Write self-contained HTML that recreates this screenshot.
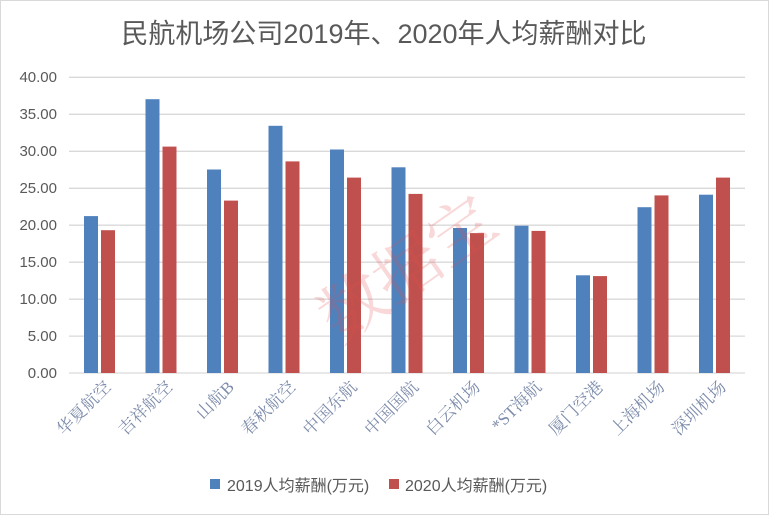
<!DOCTYPE html>
<html><head><meta charset="utf-8"><style>
body{margin:0;background:#fff;}
svg{display:block;font-family:"Liberation Sans","Noto Sans CJK SC",sans-serif;}
</style></head><body>
<svg width="769" height="515" viewBox="0 0 769 515">
<rect x="0.5" y="0.5" width="768" height="514" fill="#fff" stroke="#d9d9d9"/>
<text x="384" y="43" text-anchor="middle" font-size="27" fill="#595959">民航机场公司2019年、2020年人均薪酬对比</text>
<g stroke="#d9d9d9" stroke-width="1.3">
<line x1="69" x2="745" y1="77.3" y2="77.3"/><line x1="69" x2="745" y1="114.3" y2="114.3"/>
<line x1="69" x2="745" y1="151.3" y2="151.3"/><line x1="69" x2="745" y1="188.3" y2="188.3"/>
<line x1="69" x2="745" y1="225.2" y2="225.2"/><line x1="69" x2="745" y1="262.2" y2="262.2"/>
<line x1="69" x2="745" y1="299.2" y2="299.2"/><line x1="69" x2="745" y1="336.1" y2="336.1"/>
<line x1="69" x2="745" y1="373" y2="373"/>
</g>
<g font-size="15" fill="#595959" text-anchor="end">
<text x="57" y="82">40.00</text><text x="57" y="119">35.00</text><text x="57" y="156">30.00</text>
<text x="57" y="193">25.00</text><text x="57" y="230">20.00</text><text x="57" y="267">15.00</text>
<text x="57" y="304">10.00</text><text x="57" y="341">5.00</text><text x="57" y="378">0.00</text>
</g>
<g fill="#4f81bd">
<rect x="84" y="216.1" width="14" height="156.9"/>
<rect x="145.5" y="99.2" width="14" height="273.8"/>
<rect x="207" y="169.5" width="14" height="203.5"/>
<rect x="268.5" y="125.8" width="14" height="247.2"/>
<rect x="330" y="149.5" width="14" height="223.5"/>
<rect x="391.5" y="167.3" width="14" height="205.7"/>
<rect x="453" y="228" width="14" height="145"/>
<rect x="514.5" y="225.7" width="14" height="147.3"/>
<rect x="576" y="275.3" width="14" height="97.7"/>
<rect x="637.5" y="207.2" width="14" height="165.8"/>
<rect x="699" y="194.7" width="14" height="178.3"/>
</g>
<g fill="#c0504d">
<rect x="101" y="230.2" width="14" height="142.8"/>
<rect x="162.5" y="146.6" width="14" height="226.4"/>
<rect x="224" y="200.6" width="14" height="172.4"/>
<rect x="285.5" y="161.4" width="14" height="211.6"/>
<rect x="347" y="177.6" width="14" height="195.4"/>
<rect x="408.5" y="193.9" width="14" height="179.1"/>
<rect x="470" y="233.1" width="14" height="139.9"/>
<rect x="531.5" y="230.9" width="14" height="142.1"/>
<rect x="593" y="276.1" width="14" height="96.9"/>
<rect x="654.5" y="195.4" width="14" height="177.6"/>
<rect x="716" y="177.6" width="14" height="195.4"/>
</g>
<g font-size="17" fill="#7d8cab" font-family="'Liberation Serif','Noto Serif CJK SC',serif" text-anchor="end">
<text x="112" y="388" transform="rotate(-45 112 388)">华夏航空</text>
<text x="173.5" y="388" transform="rotate(-45 173.5 388)">吉祥航空</text>
<text x="235" y="388" transform="rotate(-45 235 388)">山航B</text>
<text x="296.5" y="388" transform="rotate(-45 296.5 388)">春秋航空</text>
<text x="358" y="388" transform="rotate(-45 358 388)">中国东航</text>
<text x="419.5" y="388" transform="rotate(-45 419.5 388)">中国国航</text>
<text x="481" y="388" transform="rotate(-45 481 388)">白云机场</text>
<text x="542.5" y="388" transform="rotate(-45 542.5 388)">*ST海航</text>
<text x="604" y="388" transform="rotate(-45 604 388)">厦门空港</text>
<text x="665.5" y="388" transform="rotate(-45 665.5 388)">上海机场</text>
<text x="727" y="388" transform="rotate(-45 727 388)">深圳机场</text>
</g>
<text x="300" y="300" font-size="66" fill="#e05050" opacity="0.22" transform="rotate(-35 390 260)" font-family="'Noto Serif CJK SC',serif">数据宝</text>
<rect x="210" y="479" width="10" height="10" fill="#4f81bd"/>
<text x="227" y="491" font-size="16" fill="#595959">2019人均薪酬(万元)</text>
<rect x="389" y="479" width="10" height="10" fill="#c0504d"/>
<text x="405" y="491" font-size="16" fill="#595959">2020人均薪酬(万元)</text>
</svg>
</body></html>
